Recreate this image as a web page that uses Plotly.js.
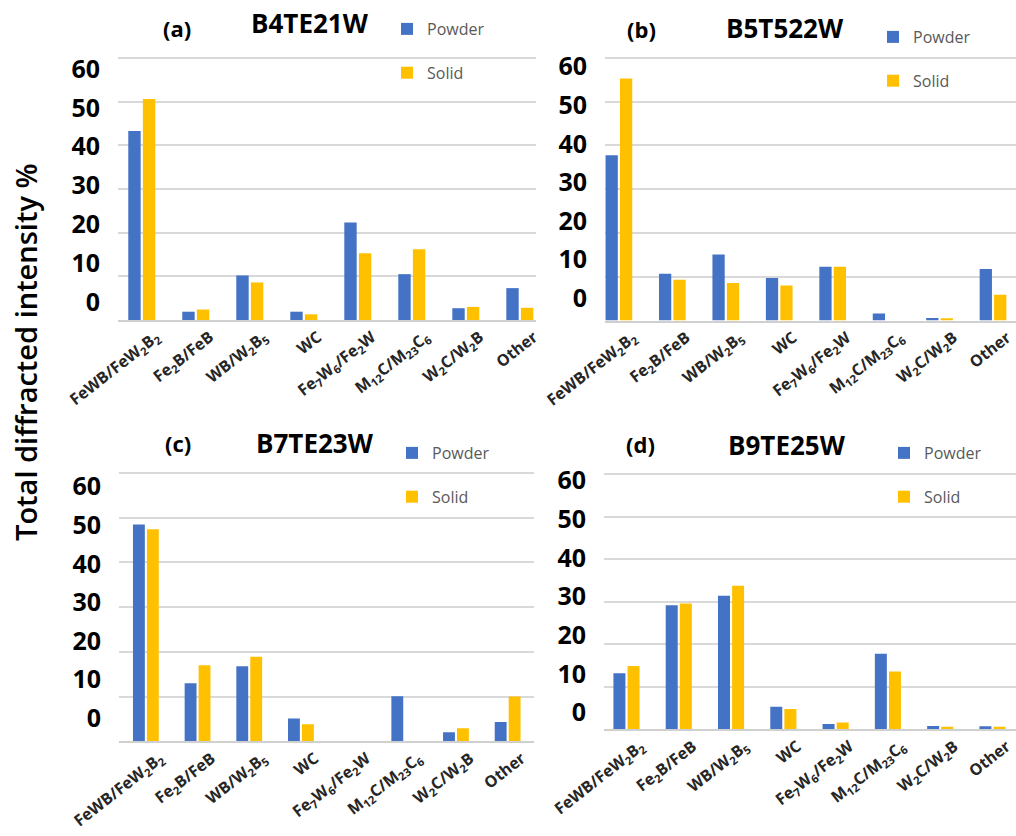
<!DOCTYPE html>
<html>
<head>
<meta charset="utf-8">
<script src="https://cdn.plot.ly/plotly-3.0.1.min.js"></script>
<style>html,body{margin:0;padding:0;background:#fff;}#chart{width:1016px;height:836px;}</style>
</head>
<body>
<div id="chart"></div>
<script>
// ---------- data ----------
const categories = [
  'FeWB/FeW<sub>2</sub>B<sub>2</sub>',
  'Fe<sub>2</sub>B/FeB',
  'WB/W<sub>2</sub>B<sub>5</sub>',
  'WC',
  'Fe<sub>7</sub>W<sub>6</sub>/Fe<sub>2</sub>W',
  'M<sub>12</sub>C/M<sub>23</sub>C<sub>6</sub>',
  'W<sub>2</sub>C/W<sub>2</sub>B',
  'Other'
];
const seriesNames = ['Powder', 'Solid'];
const panelLetters = ['(a)', '(b)', '(c)', '(d)'];
const panelNames = ['B4TE21W', 'B5T522W', 'B7TE23W', 'B9TE25W'];
const yTickValues = [0, 10, 20, 30, 40, 50, 60];

const powderA = [43.3, 1.9, 10.2, 1.9, 22.3, 10.5, 2.7, 7.3];
const solidA  = [50.6, 2.4, 8.6, 1.3, 15.3, 16.2, 3.0, 2.8];
const powderB = [37.8, 10.7, 15.1, 9.7, 12.3, 1.6, 0.6, 11.8];
const solidB  = [55.3, 9.3, 8.6, 8.0, 12.3, 0, 0.5, 5.9];
const powderC = [48.5, 13.0, 16.8, 5.1, 0, 10.1, 2.0, 4.3];
const solidC  = [47.4, 17.0, 18.9, 3.8, 0, 0, 2.9, 10.0];
const powderD = [13.2, 29.2, 31.4, 5.3, 1.25, 17.8, 0.8, 0.7];
const solidD  = [14.9, 29.6, 33.8, 4.8, 1.6, 13.6, 0.6, 0.6];

const powderSeries = [powderA, powderB, powderC, powderD];
const solidSeries  = [solidA, solidB, solidC, solidD];

// ---------- styling / layout helpers ----------
const W = 1016, H = 836;
const colors = ['#4472C4', '#FFC000'];
const px = v => v / W;
const py = v => 1 - v / H;

// plot boxes (pixels): left, right, top(60), bottom(0)
const boxes = [
  {l: 118, r: 536, t: 58, b: 320},
  {l: 605, r: 1016, t: 58, b: 320.5},
  {l: 119, r: 534, t: 473, b: 741.3},
  {l: 604, r: 1016, t: 474.3, b: 729.3}
];
const xRanges = [[-0.44, 7.3], [-0.26, 7.43], [-0.52, 7.51], [-0.43, 7.45]];
// position of the printed tick labels (pixel y of "0" and "60")
const labelPos = [
  {y0: 302, y60: 69},
  {y0: 298.3, y60: 66.7},
  {y0: 718.3, y60: 486.7},
  {y0: 712.7, y60: 480.7}
];
const titlePos = [
  {lx: 177, ly: 28, nx: 310, ny: 23},
  {lx: 641, ly: 29, nx: 785, ny: 28.5},
  {lx: 178, ly: 443, nx: 315, ny: 443},
  {lx: 640, ly: 444, nx: 787, ny: 445}
];
const legendPos = [
  {x: 401, y: 51},
  {x: 887, y: 59},
  {x: 406, y: 475},
  {x: 898, y: 475}
];

const data = [];
const layout = {
  width: W, height: H,
  margin: {l: 0, r: 0, t: 0, b: 0},
  paper_bgcolor: '#ffffff',
  plot_bgcolor: 'rgba(0,0,0,0)',
  bargap: 0.46,
  bargroupgap: 0.15,
  barmode: 'group',
  font: {family: 'Open Sans, sans-serif', color: '#000'},
  annotations: [],
  showlegend: true
};

const yMax = 60.3;
for (let i = 0; i < 4; i++) {
  const n = i + 1;
  const xa = n === 1 ? 'x' : 'x' + n;
  const ya = n === 1 ? 'y' : 'y' + n;
  const yl = 'y' + (n + 4);
  const legendId = n === 1 ? 'legend' : 'legend' + n;
  const bx = boxes[i];
  const pxPerUnit = (bx.b - bx.t) / 60;
  const topPx = bx.b - yMax * pxPerUnit;
  const series = [powderSeries[i], solidSeries[i]];
  for (let s = 0; s < 2; s++) {
    data.push({
      type: 'bar',
      name: seriesNames[s],
      x: categories,
      y: series[s],
      xaxis: xa, yaxis: ya,
      marker: {color: colors[s]},
      legend: legendId,
      legendgroup: 'g' + n + s,
      hoverinfo: 'x+y+name'
    });
  }
  // empty carrier so the printed-scale axis is drawn
  data.push({
    type: 'scatter', mode: 'markers', x: [], y: [],
    xaxis: xa, yaxis: yl, showlegend: false, hoverinfo: 'skip'
  });
  layout['xaxis' + (n === 1 ? '' : n)] = {
    domain: [px(bx.l), px(bx.r)],
    anchor: ya,
    type: 'category',
    range: xRanges[i],
    showgrid: false,
    zeroline: false,
    showline: true,
    linecolor: '#D0D0D0',
    linewidth: 1.5,
    ticks: '',
    tickangle: -38,
    ticklabelshift: 14,
    tickfont: {family: 'Open Sans, sans-serif', size: 16, color: '#262626', weight: 'bold'},
    fixedrange: true
  };
  layout['yaxis' + (n === 1 ? '' : n)] = {
    domain: [py(bx.b), py(topPx)],
    anchor: xa,
    range: [0, yMax],
    dtick: 10,
    tick0: 0,
    showgrid: true,
    gridcolor: '#D9D9D9',
    gridwidth: 1.5,
    zeroline: false,
    showticklabels: false,
    ticks: '',
    fixedrange: true
  };
  // axis carrying the printed 0-60 scale as placed in the original figure
  const lp = labelPos[i];
  const lScale = (lp.y0 - lp.y60) / 60;
  const lo = (lp.y0 - bx.b) / lScale;
  const hi = (lp.y0 - topPx) / lScale;
  layout['yaxis' + (n + 4)] = {
    overlaying: ya,
    anchor: xa,
    side: 'left',
    range: [lo, hi],
    tickvals: yTickValues,
    showgrid: false,
    zeroline: false,
    showline: false,
    ticks: '',
    ticklabelstandoff: 17,
    tickfont: {family: 'Open Sans, sans-serif', size: 25, color: '#000', weight: 'bold'},
    fixedrange: true
  };
  layout[legendId] = {
    x: px(legendPos[i].x - 14), xanchor: 'left',
    y: py(legendPos[i].y), yanchor: 'middle',
    bgcolor: 'rgba(0,0,0,0)',
    font: {family: 'Open Sans, sans-serif', size: 16, color: '#595959'},
    traceorder: 'grouped',
    tracegroupgap: 20,
    itemclick: false, itemdoubleclick: false
  };
  const tp = titlePos[i];
  layout.annotations.push({
    xref: 'paper', yref: 'paper', x: px(tp.lx), y: py(tp.ly),
    xanchor: 'center', yanchor: 'middle', showarrow: false,
    text: '<b>' + panelLetters[i] + '</b>',
    font: {family: 'Open Sans, sans-serif', size: 22, color: '#000'}
  });
  layout.annotations.push({
    xref: 'paper', yref: 'paper', x: px(tp.nx), y: py(tp.ny),
    xanchor: 'center', yanchor: 'middle', showarrow: false,
    text: '<b>' + panelNames[i] + '</b>',
    font: {family: 'Open Sans, sans-serif', size: 26, color: '#000'}
  });
}
layout.annotations.push({
  xref: 'paper', yref: 'paper', x: px(25), y: py(352),
  xanchor: 'center', yanchor: 'middle', showarrow: false,
  textangle: -90,
  text: 'Total diffracted intensity %',
  font: {family: 'Open Sans, sans-serif', size: 29, color: '#000', weight: 600}
});

Plotly.newPlot('chart', data, layout, {displayModeBar: false});
</script>
</body>
</html>
